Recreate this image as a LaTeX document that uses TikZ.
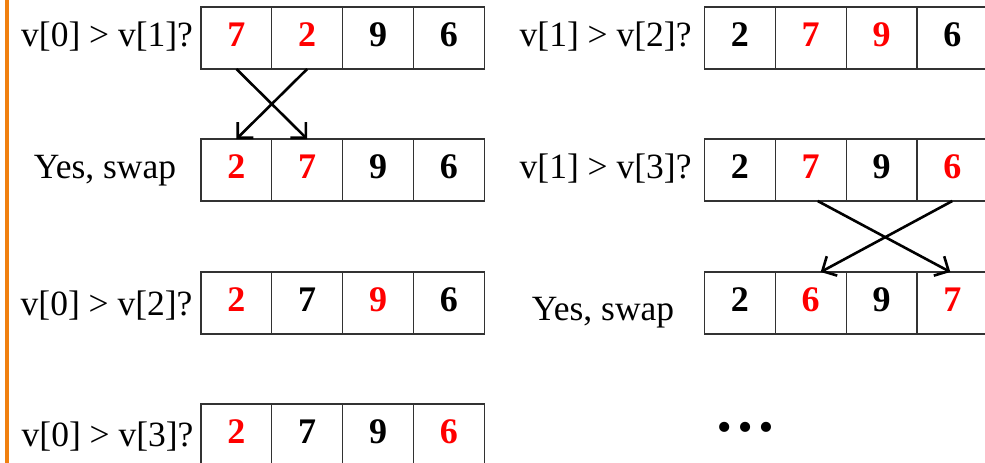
\documentclass[tikz,border=0pt]{standalone}
\usepackage{fontspec}
\setmainfont{Liberation Serif}
\usetikzlibrary{arrows.meta}
\definecolor{orng}{RGB}{240,128,16}
\definecolor{cellline}{RGB}{50,50,50}
\newcommand\cellrow[4]{%
  \foreach \v/\s [count=\i] in {#4} {%
    \node[cell,\s] (#1-\i) at ({#2+70.8*(\i-1)},#3) {\v};}}
\begin{document}
\begin{tikzpicture}[x=1pt,y=-1pt,
  cell/.style={draw=cellline, line width=1.2pt, minimum width=70.8pt, minimum height=62pt,
    inner sep=0pt, outer sep=0pt, anchor=north west,
    font=\fontsize{36}{40}\selectfont\bfseries, text height=23pt, text depth=5.6pt},
  hl/.style={text=red},
  bk/.style={text=black},
  lbl/.style={font=\fontsize{35.5}{40}\selectfont, inner sep=0pt, outer sep=0pt},
  swaparrow/.style={-{Straight Barb[length=11pt,width=22pt]}, line width=2.6pt}]
\useasboundingbox (0,0) rectangle (985,463);
\clip (0,0) rectangle (985,463);
\fill[orng] (5,0) rectangle (9,463);
% left column
\cellrow{L1}{201}{7}{7/hl,2/hl,9/bk,6/bk}
\cellrow{L2}{201}{139}{2/hl,7/hl,9/bk,6/bk}
\cellrow{L3}{201}{272}{2/hl,7/bk,9/hl,6/bk}
\cellrow{L4}{201}{404}{2/hl,7/bk,9/bk,6/hl}
% right column
\cellrow{R1}{704.5}{7}{2/bk,7/hl,9/hl,6/bk}
\cellrow{R2}{704.5}{139}{2/bk,7/hl,9/bk,6/hl}
\cellrow{R3}{704.5}{272}{2/bk,6/hl,9/bk,7/hl}
% labels
\node[lbl, anchor=base east] (tL1) at (193,46.7) {v[0] > v[1]?};
\node[lbl, anchor=base] (tL2) at (105,178.3) {Yes, swap};
\node[lbl, anchor=base east] (tL3) at (192.5,315) {v[0] > v[2]?};
\node[lbl, anchor=base east] (tL4) at (193.5,446.7) {v[0] > v[3]?};
\node[lbl, anchor=base east] (tR1) at (691.5,46.7) {v[1] > v[2]?};
\node[lbl, anchor=base east] (tR2) at (691.5,178.3) {v[1] > v[3]?};
\node[lbl, anchor=base] (tR3) at (603,320) {Yes, swap};
\node[inner sep=0pt, anchor=base, font=\fontsize{62}{62}\selectfont\bfseries] (dots) at (745,431.5) {…};
% swap arrows
\draw[swaparrow] (L1-1.south) -- (L2-2.north);
\draw[swaparrow] (L1-2.south) -- (L2-1.north);
\draw[swaparrow] ([xshift=7pt]R2-2.south) -- ([xshift=-2pt]R3-4.north);
\draw[swaparrow] (R2-4.south) -- ([xshift=10pt]R3-2.north);
\end{tikzpicture}
\end{document}
